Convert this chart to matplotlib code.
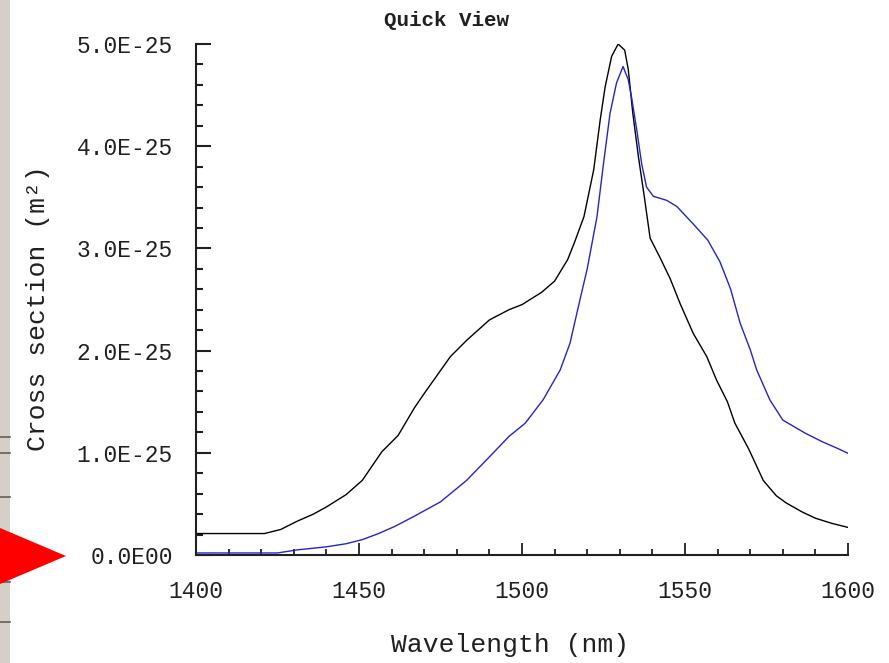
import matplotlib
matplotlib.use("Agg")
import matplotlib.pyplot as plt
from matplotlib.ticker import MultipleLocator
from matplotlib.patches import Polygon, Rectangle

# ---- data (cross section in units of 1e-25 m^2) ----
wl_black = [1400, 1421, 1426, 1431, 1436, 1440, 1446, 1451, 1457, 1462, 1467, 1470,
            1478, 1483, 1490, 1496, 1500, 1506, 1510, 1514, 1516, 1519, 1522, 1524,
            1525.5, 1527.5, 1529.5, 1531.5, 1532.6, 1534, 1535.7, 1537.5, 1539.3,
            1542.5, 1545.5, 1548.5, 1552.5, 1556.7, 1559.7, 1563, 1565.3, 1569.5,
            1574, 1578, 1581, 1586, 1590, 1595, 1600]
cs_black = [0.21, 0.21, 0.25, 0.33, 0.40, 0.47, 0.59, 0.73, 1.01, 1.17, 1.44, 1.58,
            1.94, 2.10, 2.30, 2.40, 2.45, 2.57, 2.68, 2.89, 3.05, 3.31, 3.77, 4.26,
            4.58, 4.88, 5.00, 4.94, 4.75, 4.32, 3.90, 3.51, 3.10,
            2.90, 2.70, 2.46, 2.17, 1.94, 1.71, 1.50, 1.29, 1.04,
            0.73, 0.58, 0.51, 0.42, 0.36, 0.31, 0.27]

wl_blue = [1400, 1425, 1431, 1440, 1446, 1451, 1456, 1461, 1467, 1475, 1483, 1490,
           1496, 1501, 1506.5, 1511.7, 1514.7, 1517.8, 1520, 1523, 1525, 1527, 1529,
           1531, 1532.6, 1533.6, 1535.2, 1536.7, 1538.2, 1540.3, 1544.4, 1547.5,
           1552.5, 1557, 1560.7, 1562.8, 1564, 1566.9, 1570, 1572, 1576, 1580,
           1587, 1592, 1597, 1600]
cs_blue = [0.02, 0.02, 0.05, 0.08, 0.11, 0.15, 0.21, 0.28, 0.38, 0.52, 0.73, 0.96,
           1.16, 1.29, 1.52, 1.81, 2.07, 2.50, 2.80, 3.31, 3.83, 4.32, 4.62,
           4.78, 4.65, 4.48, 4.16, 3.83, 3.60, 3.51, 3.47, 3.41,
           3.24, 3.08, 2.87, 2.70, 2.60, 2.27, 2.01, 1.81, 1.52, 1.32,
           1.19, 1.11, 1.04, 0.995]

x_ticks = [1400, 1450, 1500, 1550, 1600]
y_ticks = [0.0, 1.0e-25, 2.0e-25, 3.0e-25, 4.0e-25, 5.0e-25]
y_tick_labels = ["0.0E00", "1.0E-25", "2.0E-25", "3.0E-25", "4.0E-25", "5.0E-25"]

title = "Quick View"
xlabel = "Wavelength (nm)"
ylabel = "Cross section (m²)"

# ---- figure ----
W, H = 889, 663
plt.rcParams['font.family'] = ['Liberation Mono', 'DejaVu Sans Mono']
fig = plt.figure(figsize=(W / 100, H / 100), dpi=100)
fig.patch.set_facecolor('white')

ax = fig.add_axes([196 / W, 1 - 555 / H, (848 - 196) / W, (555 - 44) / H])

ax.plot(wl_black, [v * 1e-25 for v in cs_black], color='#000000', lw=1.0)
ax.plot(wl_blue, [v * 1e-25 for v in cs_blue], color='#2424c8', lw=1.0)

ax.set_xlim(1400, 1600)
ax.set_ylim(0, 5e-25)

for s in ['top', 'right']:
    ax.spines[s].set_visible(False)
for s in ['left', 'bottom']:
    ax.spines[s].set_linewidth(1.5)
    ax.spines[s].set_color('#202020')

ax.set_xticks(x_ticks)
ax.xaxis.set_minor_locator(MultipleLocator(10))
ax.set_yticks(y_ticks)
ax.set_yticklabels(y_tick_labels)
ax.yaxis.set_minor_locator(MultipleLocator(0.2e-25))

ax.tick_params(axis='y', which='major', direction='in', length=11, width=1.5,
               pad=16.5, labelsize=16.5, colors='#202020')
ax.tick_params(axis='y', which='minor', direction='in', length=5, width=1.5,
               colors='#202020')
ax.tick_params(axis='x', which='major', direction='in', length=9, width=1.3,
               pad=18, labelsize=16.5, colors='#202020')
ax.tick_params(axis='x', which='minor', direction='in', length=4.5, width=1.3,
               colors='#202020')

ax.set_xlabel(xlabel, fontsize=19, color='#202020')
ax.xaxis.label.set(va='center')
ax.xaxis.set_label_coords((510 - 196) / 652, (555 - 645) / 511)

ax.set_ylabel(ylabel, fontsize=19, color='#202020')
ax.yaxis.label.set(va='center', ha='center', rotation_mode='anchor')
ax.yaxis.set_label_coords((38 - 196) / 652, (555 - 308) / 511)


def fx(px):
    return px / W


def fy(py):
    return 1 - py / H


fig.text(fx(447), fy(20), title, fontsize=15, color='#202020',
         ha='center', va='center', fontweight='bold')

# ---- left window strip and red arrow (figure pixel coords) ----
fig.patches.append(Rectangle((0, 0), fx(10), 1, transform=fig.transFigure,
                             facecolor='#d4d0c8', edgecolor='none', zorder=0))
for yy in [437, 453, 497, 582, 622]:
    fig.lines.append(plt.Line2D([0, fx(10)], [fy(yy), fy(yy)],
                                transform=fig.transFigure, color='#606060', lw=1.2))
fig.patches.append(Polygon([(fx(0), fy(528)), (fx(66), fy(556)), (fx(0), fy(584))],
                           closed=True, transform=fig.transFigure,
                           facecolor='#ff0000', edgecolor='none', zorder=5))

fig.savefig('out.png', dpi=100)
